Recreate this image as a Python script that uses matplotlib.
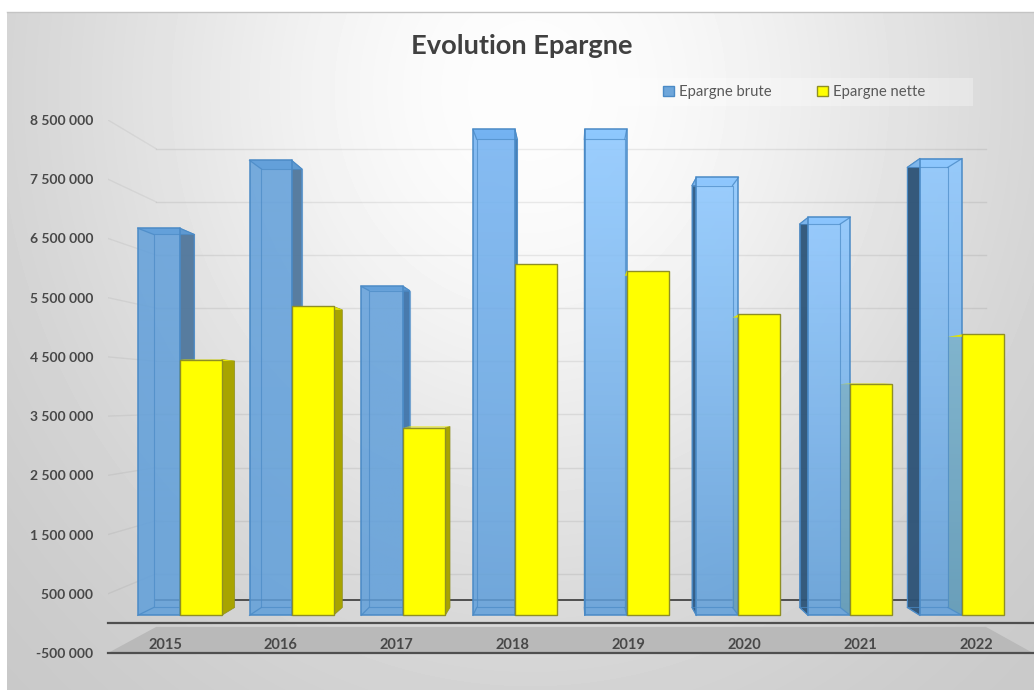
import numpy as np
import matplotlib
matplotlib.use("Agg")
import matplotlib.pyplot as plt
from matplotlib.colors import to_rgb
from matplotlib.lines import Line2D
from matplotlib.patches import Polygon, Patch, Rectangle

# Chart values
years = ["2015", "2016", "2017", "2018", "2019", "2020", "2021", "2022"]
epargne_brute = [6780000, 7970000, 5760000, 8510000, 8510000, 7670000, 6970000, 8000000]
epargne_nette = [4480000, 5410000, 3290000, 6150000, 6030000, 5270000, 4060000, 4920000]
y_ticks = [-500000, 500000, 1500000, 2500000, 3500000, 4500000, 5500000, 6500000, 7500000, 8500000]
y_labels = ["-500 000", "500 000", "1 500 000", "2 500 000", "3 500 000",
            "4 500 000", "5 500 000", "6 500 000", "7 500 000", "8 500 000"]

# Face colours of the blue bars (drawn slightly translucent)
blue_top = ["#629fda", "#629fda", "#629fda", "#72b2f2", "#8cc7ff", "#8cc7ff", "#8ac5ff", "#8cc7ff"]
blue_bottom = "#609fda"
blue_side = ["#50779c", "#50779c", "#3f74aa", "#3f74aa", "#2f5a85", "#2d5a85", "#2c5478", "#2c5276"]
blue_edge = "#4a8ac6"
yellow = "#ffff00"
yellow_side = "#a8a400"
yellow_edge = "#8f8f24"
text_color = "#484848"

W, H = 1034, 690
fig = plt.figure(figsize=(W / 100, H / 100), dpi=100, facecolor="white")
plt.rcParams["font.family"] = ["Lato", "DejaVu Sans"]

# Radial grey backdrop of the chart area
bg = fig.add_axes([7 / W, 0, 1 - 7 / W, 1 - 12 / H], zorder=0)
yy, xx = np.mgrid[12:H, 7:W]
r = np.hypot((xx - 530) / 580, (yy - 90) / 650)
grey = (196 + 57 * np.exp(-1.5 * r ** 2)) / 255
bg.imshow(grey, cmap="gray", vmin=0, vmax=1, aspect="auto", interpolation="bilinear")
bg.axis("off")
fig.add_artist(Line2D([7 / W, 1], [1 - 11.5 / H] * 2, transform=fig.transFigure,
                      color="#c4c4c4", lw=1.0, zorder=0.5))

# Main axes: its data plane is the front of the 3D box
left, right, top, bottom = 108, 1033, 120, 653
ax = fig.add_axes([left / W, 1 - bottom / H, (right - left) / W, (bottom - top) / H], zorder=1)
ax.patch.set_alpha(0)
step_px = 115.9
ax.set_xlim((left - 165) / step_px, (right - 165) / step_px)
ax.set_ylim(-500000, 8500000)
ax.autoscale(False)
for s in ax.spines.values():
    s.set_visible(False)
ax.set_xticks(range(len(years)), years)
ax.set_yticks(y_ticks, y_labels)
ax.tick_params(axis="y", length=0, pad=10.5, labelsize=10, labelcolor=text_color)
ax.tick_params(axis="x", length=0, pad=-10.5, labelsize=10.5, labelcolor=text_color)
for lab in ax.get_xticklabels() + ax.get_yticklabels():
    lab.set_fontweight("bold")
ax.xaxis.set_zorder(20)

# Perspective: points move towards a vanishing point as depth factor d shrinks
VX, VY = (576 - 165) / step_px, (623 - 399) / 59.25 * 1e6
D_WALL, D_FRONT, D_BACK = 0.897, 0.964, 0.929
BAR_W = 0.376


def proj(x, v, d):
    return VX + (x - VX) * d, VY + (v - VY) * d


def quad(points, **kw):
    p = Polygon(points, closed=True, **kw)
    ax.add_patch(p)
    return p


def box_face(x0, x1, v, d=D_FRONT):
    return [proj(x0, 0, d), proj(x1, 0, d), proj(x1, v, d), proj(x0, v, d)]


def side_face(x, v):
    return [proj(x, 0, D_FRONT), proj(x, 0, D_BACK), proj(x, v, D_BACK), proj(x, v, D_FRONT)]


def top_face(x0, x1, v):
    return [proj(x0, v, D_FRONT), proj(x1, v, D_FRONT), proj(x1, v, D_BACK), proj(x0, v, D_BACK)]


# Floor band and its rules
x_min, x_max = ax.get_xlim()
quad([proj(x_min, -500000, 1), proj(x_max, -500000, 1),
      proj(x_max, -500000, D_WALL), proj(x_min, -500000, D_WALL)],
     facecolor="#b9b9b9", edgecolor="none", zorder=1)
ax.plot([x_min, x_max], [0, 0], color="#4f4f4f", lw=1.6, zorder=2, clip_on=False)
ax.plot([x_min, x_max], [-500000, -500000], color="#4f4f4f", lw=1.6, zorder=2, clip_on=False)
bx0, by0 = proj(x_min, 0, D_WALL)
bx1, by1 = proj(x_max, 0, D_WALL)
ax.plot([bx0, bx1], [by0, by1], color="#4f4f4f", lw=1.4, zorder=2)

# Gridlines on the back wall and the left wall
for v in y_ticks[1:]:
    gx0, gy0 = proj(x_min, v, D_WALL)
    gx1, gy1 = proj(x_max, v, D_WALL)
    ax.plot([gx0, gx1], [gy0, gy1], color="black", alpha=0.075, lw=1.0, zorder=1.5)
    ax.plot([x_min, gx0], [v, gy0], color="black", alpha=0.05, lw=1.0, zorder=1.5)

# Bars, painted group by group from back to front
z = 3.0
for i, (vb, vn) in enumerate(zip(epargne_brute, epargne_nette)):
    b0, b1 = i - BAR_W, i
    y0, y1 = i, i + BAR_W
    facing_right = i < 4

    if not facing_right:
        quad(side_face(y0, vn), facecolor=yellow_side, edgecolor="none", zorder=z)
        z += 0.01

    side_x = b1 if facing_right else b0
    quad(side_face(side_x, vb), facecolor=blue_side[i], edgecolor=blue_edge, lw=0.8,
         alpha=0.95, zorder=z)
    z += 0.01

    # Blue front with a vertical gradient clipped to the face
    xs, ys = zip(*(box_face(b0, b1, vb) + top_face(b0, b1, vb)))
    c_top, c_bot = np.array(to_rgb(blue_top[i])), np.array(to_rgb(blue_bottom))
    t = np.linspace(0, 1, 128)[:, None]
    rgba = np.ones((128, 1, 4))
    rgba[..., :3] = (c_top * (1 - t) + c_bot * t)[:, None, :]
    rgba[..., 3] = 0.86
    extent = (min(xs), max(xs), min(ys), max(ys))
    for face in (box_face(b0, b1, vb), top_face(b0, b1, vb)):
        im = ax.imshow(rgba, extent=extent, aspect="auto", origin="upper", zorder=z)
        clip = Polygon(face, closed=True, transform=ax.transData)
        im.set_clip_path(clip)
    z += 0.01

    # Outline of the glass-like box: front, back and connecting edges
    quad(box_face(b0, b1, vb, D_BACK), facecolor="none", edgecolor=blue_edge, lw=0.8,
         alpha=0.7, zorder=z)
    for x_e, v_e in ((b0, 0), (b1, 0), (b0, vb), (b1, vb)):
        xa, ya = proj(x_e, v_e, D_FRONT)
        xc, yc = proj(x_e, v_e, D_BACK)
        ax.plot([xa, xc], [ya, yc], color=blue_edge, lw=0.9, alpha=0.8, zorder=z)
    quad(box_face(b0, b1, vb), facecolor="none", edgecolor=blue_edge, lw=1.1, zorder=z)
    z += 0.01

    if facing_right:
        quad(side_face(y1, vn), facecolor=yellow_side, edgecolor=yellow_edge, lw=0.5, zorder=z)
        z += 0.01
    quad(top_face(y0, y1, vn), facecolor="#e6e600", edgecolor="none", zorder=z)
    z += 0.01
    quad(box_face(y0, y1, vn), facecolor=yellow, edgecolor=yellow_edge, lw=1.0, zorder=z)
    z += 0.01

# Legend strip
fig.add_artist(Rectangle((611 / W, 1 - 106 / H), 362 / W, 28 / H, transform=fig.transFigure,
                         facecolor="white", alpha=0.3, edgecolor="none", zorder=0.5))
leg = ax.legend(
    handles=[Patch(facecolor="#6ea6da", edgecolor="#4a8ac6", label="Epargne brute"),
             Patch(facecolor=yellow, edgecolor=yellow_edge, label="Epargne nette")],
    ncols=2, loc="center", bbox_to_anchor=((794 - left) / (right - left), 1 + (120 - 92) / (bottom - top)),
    frameon=False, fontsize=10.7, labelcolor="#595959", handlelength=0.72, handleheight=0.72,
    handletextpad=0.35, columnspacing=3.05, borderpad=0, borderaxespad=0)
leg.set_zorder(30)

fig.text(522 / W, 1 - 46 / H, "Evolution Epargne", ha="center", va="center",
         fontsize=19.6, fontweight="bold", color="#404040")

fig.savefig("out.png", dpi=100)
